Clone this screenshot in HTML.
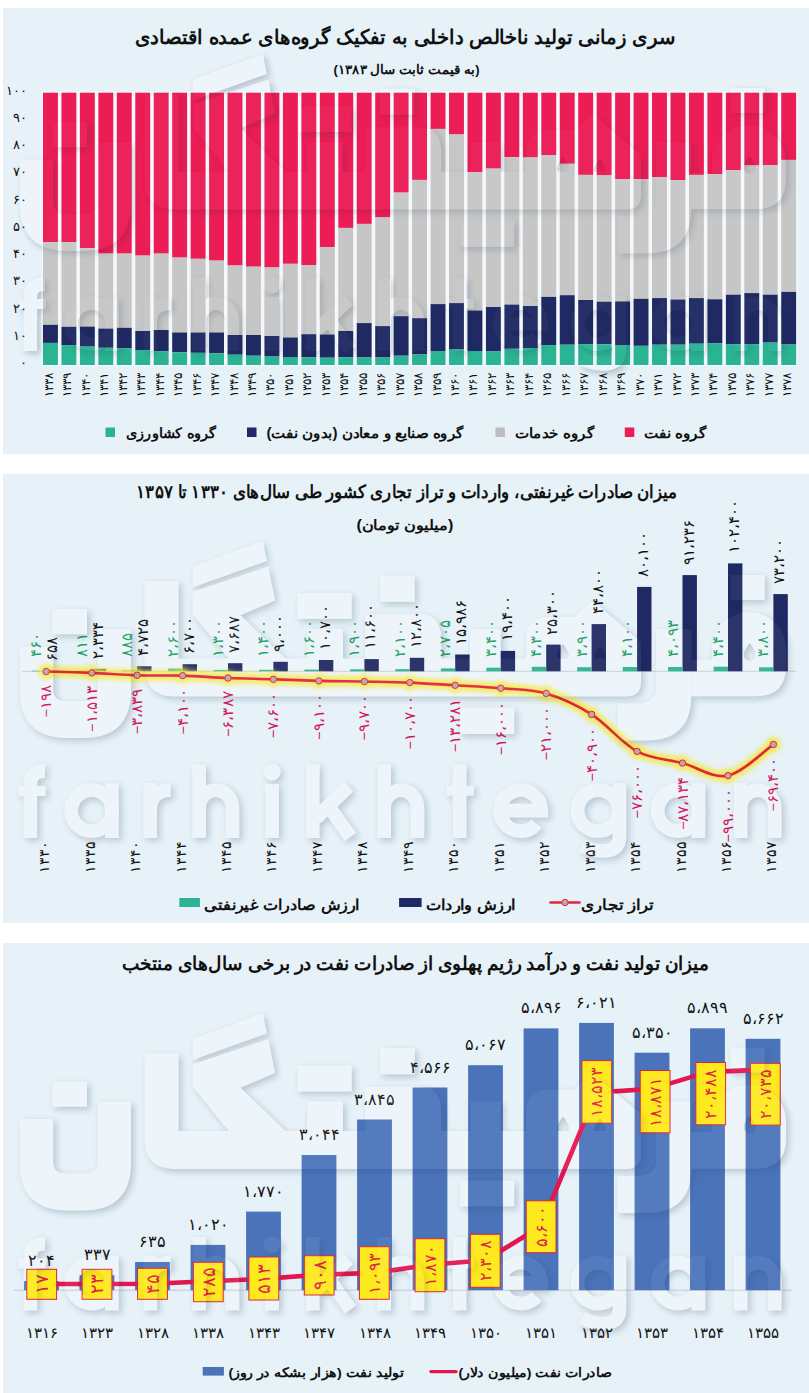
<!DOCTYPE html>
<html lang="fa"><head><meta charset="utf-8"><title>chart</title>
<style>
html,body{margin:0;padding:0;background:#fff;}
body{width:809px;height:1393px;overflow:hidden;font-family:"Liberation Sans",sans-serif;}
svg{display:block;}
text{font-family:"Liberation Sans",sans-serif;}
.t{font-weight:bold;fill:#111;}
.num{direction:ltr;unicode-bidi:bidi-override;}
</style></head><body>
<svg width="809" height="1393" viewBox="0 0 809 1393">
<defs>
<filter id="glow" x="-5%" y="-20%" width="110%" height="140%"><feGaussianBlur stdDeviation="2.8"/></filter>
<filter id="wsh" x="-3%" y="-6%" width="106%" height="114%"><feDropShadow dx="2.5" dy="2.5" stdDeviation="3.5" flood-color="#4b6a88" flood-opacity="0.4"/></filter>
<filter id="wso" x="-3%" y="-6%" width="106%" height="114%"><feGaussianBlur in="SourceAlpha" stdDeviation="3"/><feOffset dx="2.5" dy="2.5" result="b"/><feFlood flood-color="#1c2c40" flood-opacity="1"/><feComposite in2="b" operator="in"/><feComposite in2="SourceAlpha" operator="out"/></filter>
<g id="wm">
<path d="M19.8,646.5 H53.2 V689 Q53.2,701 65.2,701 H85.7 Q97.7,701 97.7,689 V629.2 H131 V690 Q131,738 83,738 H67.8 Q19.8,738 19.8,690 Z"/>
<rect x="52.4" y="609" width="34.6" height="25.2"/>
<path d="M144.6,581 H178.5 V658.5 H641 V682 Q641,696.5 626,696.5 H175 Q144.6,696.5 144.6,666 Z"/>
<polygon points="192.7,566.6 262.7,541.1 266.9,560.9 192.7,587.4"/>
<polygon points="192.7,591.8 268.4,566.6 275,600.5 240.5,615.3 286,659 229,659 192.7,614"/>
<rect x="307.2" y="629" width="35.8" height="31"/>
<rect x="297.3" y="593" width="54.4" height="26"/>
<path d="M365,614.2 H420 Q441.4,614.2 441.4,640 V660 H365 Z"/>
<rect x="380" y="575.8" width="34.7" height="26"/>
<rect x="470.3" y="629" width="30.4" height="31"/>
<rect x="459.9" y="708" width="54.4" height="26"/>
<path fill-rule="evenodd" d="M526,662 V640 Q526,617 550,617 H574 L592.8,600.8 L641,642 V662 Z M563,644 q6,7 6,12 a6,6 0 1 1 -12,0 q0,-5 6,-12 z M600,646 q6,7 6,12 a6,6 0 1 1 -12,0 q0,-5 6,-12 z"/>
<path d="M656.3,629 H691.2 V696 Q691.2,740.5 646,740.5 H617.5 V703.4 H638 Q656.3,703.4 656.3,686 Z"/>
<path fill-rule="evenodd" d="M691.2,659.7 H712 V649 A37,37 0 0 1 786,649 V666 Q786,696.2 756,696.2 H691.2 Z M749.7,643 q6,7 6,12 a6,6 0 1 1 -12,0 q0,-5 6,-12 z"/>
<rect x="730.7" y="575" width="34" height="25"/>
<g fill="none" stroke="#fff" stroke-width="13.6">
<path d="M30.3,838 V784 Q30.3,771.3 45,771.3"/><path d="M18.5,791 H45.7" stroke-width="10"/>
<circle cx="91.7" cy="810.65" r="20.5"/><path d="M111.9,783.3 V838"/>
<path d="M150.2,838 V783.3 M150.2,809 Q151,790.5 170.6,790.1"/>
<path id="wmh" d="M199.2,764.5 V838 M199.2,808 A16.65,17.8 0 0 1 232.5,808 V838"/>
<path d="M272.1,784 V838"/><circle cx="272.1" cy="772" r="8.6" fill="#fff" stroke="none"/>
<path d="M312.8,764.5 V838 M316,818 L348.5,786.5 M328.5,806 L350.5,837" />
<use href="#wmh" x="185"/>
<path d="M459.6,764.5 V838"/><path d="M446.6,790.7 H473.8" stroke-width="10"/>
<path d="M500.4,810.65 H541.3 A20.5,20.5 0 1 0 536.5,823.8"/>
<circle cx="598.1" cy="810.65" r="20.5"/><path d="M619.4,783.3 V837 Q619.4,851 603,851 Q591,851 582,845.5"/>
<circle cx="678.2" cy="810.65" r="20.5"/><path d="M698.4,783.3 V838"/>
<path d="M740.7,783.3 V838 M740.7,808 A17.05,17.8 0 0 1 774.8,808 V838"/>
</g>
</g>
</defs>

<rect x="3" y="8" width="806" height="446" fill="#e6f1f8"/>
<rect x="3" y="474" width="806" height="449" fill="#e6f1f8"/>
<rect x="3" y="943" width="806" height="450" fill="#e6f1f8"/>
<clipPath id="cp0"><rect x="3" y="8" width="806" height="446"/></clipPath>
<g clip-path="url(#cp0)"><use href="#wm" y="-487" fill="#fff" opacity="0.34" filter="url(#wsh)"/></g>
<clipPath id="cp1"><rect x="3" y="474" width="806" height="449"/></clipPath>
<g clip-path="url(#cp1)"><use href="#wm" y="0" fill="#fff" opacity="0.34" filter="url(#wsh)"/></g>
<clipPath id="cp2"><rect x="3" y="943" width="806" height="450"/></clipPath>
<g clip-path="url(#cp2)"><use href="#wm" y="472.5" fill="#fff" opacity="0.34" filter="url(#wsh)"/></g>
<rect x="41.4" y="91.4" width="756.2" height="275" fill="#f3f8fc"/>
<g id="chart1">
<rect x="43.00" y="92.7" width="14.9" height="149.3" fill="#ec1c54"/><rect x="43.00" y="242.0" width="14.9" height="82.8" fill="#c6c6c6"/><rect x="43.00" y="324.8" width="14.9" height="18.1" fill="#1f2963"/><rect x="43.00" y="342.9" width="14.9" height="22.1" fill="#2ab395"/>
<rect x="61.46" y="92.7" width="14.9" height="149.3" fill="#ec1c54"/><rect x="61.46" y="242.0" width="14.9" height="84.8" fill="#c6c6c6"/><rect x="61.46" y="326.8" width="14.9" height="18.3" fill="#1f2963"/><rect x="61.46" y="345.1" width="14.9" height="19.9" fill="#2ab395"/>
<rect x="79.91" y="92.7" width="14.9" height="155.5" fill="#ec1c54"/><rect x="79.91" y="248.2" width="14.9" height="78.4" fill="#c6c6c6"/><rect x="79.91" y="326.6" width="14.9" height="20.0" fill="#1f2963"/><rect x="79.91" y="346.6" width="14.9" height="18.4" fill="#2ab395"/>
<rect x="98.37" y="92.7" width="14.9" height="160.9" fill="#ec1c54"/><rect x="98.37" y="253.6" width="14.9" height="75.0" fill="#c6c6c6"/><rect x="98.37" y="328.6" width="14.9" height="19.2" fill="#1f2963"/><rect x="98.37" y="347.8" width="14.9" height="17.2" fill="#2ab395"/>
<rect x="116.82" y="92.7" width="14.9" height="160.9" fill="#ec1c54"/><rect x="116.82" y="253.6" width="14.9" height="74.2" fill="#c6c6c6"/><rect x="116.82" y="327.8" width="14.9" height="20.5" fill="#1f2963"/><rect x="116.82" y="348.3" width="14.9" height="16.7" fill="#2ab395"/>
<rect x="135.28" y="92.7" width="14.9" height="162.9" fill="#ec1c54"/><rect x="135.28" y="255.6" width="14.9" height="75.4" fill="#c6c6c6"/><rect x="135.28" y="331.0" width="14.9" height="19.0" fill="#1f2963"/><rect x="135.28" y="350.0" width="14.9" height="15.0" fill="#2ab395"/>
<rect x="153.74" y="92.7" width="14.9" height="160.9" fill="#ec1c54"/><rect x="153.74" y="253.6" width="14.9" height="76.4" fill="#c6c6c6"/><rect x="153.74" y="330.0" width="14.9" height="21.3" fill="#1f2963"/><rect x="153.74" y="351.3" width="14.9" height="13.7" fill="#2ab395"/>
<rect x="172.19" y="92.7" width="14.9" height="164.9" fill="#ec1c54"/><rect x="172.19" y="257.6" width="14.9" height="74.9" fill="#c6c6c6"/><rect x="172.19" y="332.5" width="14.9" height="19.8" fill="#1f2963"/><rect x="172.19" y="352.3" width="14.9" height="12.7" fill="#2ab395"/>
<rect x="190.65" y="92.7" width="14.9" height="166.1" fill="#ec1c54"/><rect x="190.65" y="258.8" width="14.9" height="73.7" fill="#c6c6c6"/><rect x="190.65" y="332.5" width="14.9" height="20.3" fill="#1f2963"/><rect x="190.65" y="352.8" width="14.9" height="12.2" fill="#2ab395"/>
<rect x="209.10" y="92.7" width="14.9" height="167.9" fill="#ec1c54"/><rect x="209.10" y="260.6" width="14.9" height="71.9" fill="#c6c6c6"/><rect x="209.10" y="332.5" width="14.9" height="20.8" fill="#1f2963"/><rect x="209.10" y="353.3" width="14.9" height="11.7" fill="#2ab395"/>
<rect x="227.56" y="92.7" width="14.9" height="172.8" fill="#ec1c54"/><rect x="227.56" y="265.5" width="14.9" height="69.5" fill="#c6c6c6"/><rect x="227.56" y="335.0" width="14.9" height="19.7" fill="#1f2963"/><rect x="227.56" y="354.7" width="14.9" height="10.3" fill="#2ab395"/>
<rect x="246.02" y="92.7" width="14.9" height="174.0" fill="#ec1c54"/><rect x="246.02" y="266.7" width="14.9" height="68.3" fill="#c6c6c6"/><rect x="246.02" y="335.0" width="14.9" height="20.7" fill="#1f2963"/><rect x="246.02" y="355.7" width="14.9" height="9.3" fill="#2ab395"/>
<rect x="264.47" y="92.7" width="14.9" height="174.8" fill="#ec1c54"/><rect x="264.47" y="267.5" width="14.9" height="68.5" fill="#c6c6c6"/><rect x="264.47" y="336.0" width="14.9" height="20.5" fill="#1f2963"/><rect x="264.47" y="356.5" width="14.9" height="8.5" fill="#2ab395"/>
<rect x="282.93" y="92.7" width="14.9" height="171.1" fill="#ec1c54"/><rect x="282.93" y="263.8" width="14.9" height="73.7" fill="#c6c6c6"/><rect x="282.93" y="337.5" width="14.9" height="19.5" fill="#1f2963"/><rect x="282.93" y="357.0" width="14.9" height="8.0" fill="#2ab395"/>
<rect x="301.38" y="92.7" width="14.9" height="172.3" fill="#ec1c54"/><rect x="301.38" y="265.0" width="14.9" height="69.2" fill="#c6c6c6"/><rect x="301.38" y="334.2" width="14.9" height="23.0" fill="#1f2963"/><rect x="301.38" y="357.2" width="14.9" height="7.8" fill="#2ab395"/>
<rect x="319.84" y="92.7" width="14.9" height="154.3" fill="#ec1c54"/><rect x="319.84" y="247.0" width="14.9" height="87.5" fill="#c6c6c6"/><rect x="319.84" y="334.5" width="14.9" height="23.2" fill="#1f2963"/><rect x="319.84" y="357.7" width="14.9" height="7.3" fill="#2ab395"/>
<rect x="338.30" y="92.7" width="14.9" height="135.2" fill="#ec1c54"/><rect x="338.30" y="227.9" width="14.9" height="103.1" fill="#c6c6c6"/><rect x="338.30" y="331.0" width="14.9" height="26.2" fill="#1f2963"/><rect x="338.30" y="357.2" width="14.9" height="7.8" fill="#2ab395"/>
<rect x="356.75" y="92.7" width="14.9" height="131.2" fill="#ec1c54"/><rect x="356.75" y="223.9" width="14.9" height="99.2" fill="#c6c6c6"/><rect x="356.75" y="323.1" width="14.9" height="34.4" fill="#1f2963"/><rect x="356.75" y="357.5" width="14.9" height="7.5" fill="#2ab395"/>
<rect x="375.21" y="92.7" width="14.9" height="124.7" fill="#ec1c54"/><rect x="375.21" y="217.4" width="14.9" height="108.7" fill="#c6c6c6"/><rect x="375.21" y="326.1" width="14.9" height="31.4" fill="#1f2963"/><rect x="375.21" y="357.5" width="14.9" height="7.5" fill="#2ab395"/>
<rect x="393.66" y="92.7" width="14.9" height="99.9" fill="#ec1c54"/><rect x="393.66" y="192.6" width="14.9" height="123.6" fill="#c6c6c6"/><rect x="393.66" y="316.2" width="14.9" height="39.5" fill="#1f2963"/><rect x="393.66" y="355.7" width="14.9" height="9.3" fill="#2ab395"/>
<rect x="412.12" y="92.7" width="14.9" height="87.2" fill="#ec1c54"/><rect x="412.12" y="179.9" width="14.9" height="138.3" fill="#c6c6c6"/><rect x="412.12" y="318.2" width="14.9" height="36.2" fill="#1f2963"/><rect x="412.12" y="354.4" width="14.9" height="10.6" fill="#2ab395"/>
<rect x="430.58" y="92.7" width="14.9" height="36.2" fill="#ec1c54"/><rect x="430.58" y="128.9" width="14.9" height="175.2" fill="#c6c6c6"/><rect x="430.58" y="304.1" width="14.9" height="46.9" fill="#1f2963"/><rect x="430.58" y="351.0" width="14.9" height="14.0" fill="#2ab395"/>
<rect x="449.03" y="92.7" width="14.9" height="41.8" fill="#ec1c54"/><rect x="449.03" y="134.5" width="14.9" height="168.6" fill="#c6c6c6"/><rect x="449.03" y="303.1" width="14.9" height="46.5" fill="#1f2963"/><rect x="449.03" y="349.6" width="14.9" height="15.4" fill="#2ab395"/>
<rect x="467.49" y="92.7" width="14.9" height="79.6" fill="#ec1c54"/><rect x="467.49" y="172.3" width="14.9" height="138.2" fill="#c6c6c6"/><rect x="467.49" y="310.5" width="14.9" height="40.5" fill="#1f2963"/><rect x="467.49" y="351.0" width="14.9" height="14.0" fill="#2ab395"/>
<rect x="485.94" y="92.7" width="14.9" height="75.9" fill="#ec1c54"/><rect x="485.94" y="168.6" width="14.9" height="138.4" fill="#c6c6c6"/><rect x="485.94" y="307.0" width="14.9" height="44.5" fill="#1f2963"/><rect x="485.94" y="351.5" width="14.9" height="13.5" fill="#2ab395"/>
<rect x="504.40" y="92.7" width="14.9" height="64.5" fill="#ec1c54"/><rect x="504.40" y="157.2" width="14.9" height="147.4" fill="#c6c6c6"/><rect x="504.40" y="304.6" width="14.9" height="44.2" fill="#1f2963"/><rect x="504.40" y="348.8" width="14.9" height="16.2" fill="#2ab395"/>
<rect x="522.86" y="92.7" width="14.9" height="64.8" fill="#ec1c54"/><rect x="522.86" y="157.5" width="14.9" height="148.5" fill="#c6c6c6"/><rect x="522.86" y="306.0" width="14.9" height="42.0" fill="#1f2963"/><rect x="522.86" y="348.0" width="14.9" height="17.0" fill="#2ab395"/>
<rect x="541.31" y="92.7" width="14.9" height="62.3" fill="#ec1c54"/><rect x="541.31" y="155.0" width="14.9" height="141.9" fill="#c6c6c6"/><rect x="541.31" y="296.9" width="14.9" height="48.2" fill="#1f2963"/><rect x="541.31" y="345.1" width="14.9" height="19.9" fill="#2ab395"/>
<rect x="559.77" y="92.7" width="14.9" height="71.1" fill="#ec1c54"/><rect x="559.77" y="163.8" width="14.9" height="131.4" fill="#c6c6c6"/><rect x="559.77" y="295.2" width="14.9" height="49.5" fill="#1f2963"/><rect x="559.77" y="344.7" width="14.9" height="20.3" fill="#2ab395"/>
<rect x="578.22" y="92.7" width="14.9" height="82.2" fill="#ec1c54"/><rect x="578.22" y="174.9" width="14.9" height="125.1" fill="#c6c6c6"/><rect x="578.22" y="300.0" width="14.9" height="44.1" fill="#1f2963"/><rect x="578.22" y="344.1" width="14.9" height="20.9" fill="#2ab395"/>
<rect x="596.68" y="92.7" width="14.9" height="82.7" fill="#ec1c54"/><rect x="596.68" y="175.4" width="14.9" height="126.3" fill="#c6c6c6"/><rect x="596.68" y="301.7" width="14.9" height="42.6" fill="#1f2963"/><rect x="596.68" y="344.3" width="14.9" height="20.7" fill="#2ab395"/>
<rect x="615.14" y="92.7" width="14.9" height="86.3" fill="#ec1c54"/><rect x="615.14" y="179.0" width="14.9" height="122.4" fill="#c6c6c6"/><rect x="615.14" y="301.4" width="14.9" height="43.6" fill="#1f2963"/><rect x="615.14" y="345.0" width="14.9" height="20.0" fill="#2ab395"/>
<rect x="633.59" y="92.7" width="14.9" height="86.3" fill="#ec1c54"/><rect x="633.59" y="179.0" width="14.9" height="119.8" fill="#c6c6c6"/><rect x="633.59" y="298.8" width="14.9" height="47.0" fill="#1f2963"/><rect x="633.59" y="345.8" width="14.9" height="19.2" fill="#2ab395"/>
<rect x="652.05" y="92.7" width="14.9" height="84.6" fill="#ec1c54"/><rect x="652.05" y="177.3" width="14.9" height="120.8" fill="#c6c6c6"/><rect x="652.05" y="298.1" width="14.9" height="46.6" fill="#1f2963"/><rect x="652.05" y="344.7" width="14.9" height="20.3" fill="#2ab395"/>
<rect x="670.50" y="92.7" width="14.9" height="87.4" fill="#ec1c54"/><rect x="670.50" y="180.1" width="14.9" height="119.4" fill="#c6c6c6"/><rect x="670.50" y="299.5" width="14.9" height="45.2" fill="#1f2963"/><rect x="670.50" y="344.7" width="14.9" height="20.3" fill="#2ab395"/>
<rect x="688.96" y="92.7" width="14.9" height="82.2" fill="#ec1c54"/><rect x="688.96" y="174.9" width="14.9" height="123.2" fill="#c6c6c6"/><rect x="688.96" y="298.1" width="14.9" height="45.6" fill="#1f2963"/><rect x="688.96" y="343.7" width="14.9" height="21.3" fill="#2ab395"/>
<rect x="707.42" y="92.7" width="14.9" height="81.4" fill="#ec1c54"/><rect x="707.42" y="174.1" width="14.9" height="125.2" fill="#c6c6c6"/><rect x="707.42" y="299.3" width="14.9" height="44.1" fill="#1f2963"/><rect x="707.42" y="343.4" width="14.9" height="21.6" fill="#2ab395"/>
<rect x="725.87" y="92.7" width="14.9" height="77.6" fill="#ec1c54"/><rect x="725.87" y="170.3" width="14.9" height="124.4" fill="#c6c6c6"/><rect x="725.87" y="294.7" width="14.9" height="49.4" fill="#1f2963"/><rect x="725.87" y="344.1" width="14.9" height="20.9" fill="#2ab395"/>
<rect x="744.33" y="92.7" width="14.9" height="72.8" fill="#ec1c54"/><rect x="744.33" y="165.5" width="14.9" height="127.6" fill="#c6c6c6"/><rect x="744.33" y="293.1" width="14.9" height="51.0" fill="#1f2963"/><rect x="744.33" y="344.1" width="14.9" height="20.9" fill="#2ab395"/>
<rect x="762.78" y="92.7" width="14.9" height="72.3" fill="#ec1c54"/><rect x="762.78" y="165.0" width="14.9" height="129.7" fill="#c6c6c6"/><rect x="762.78" y="294.7" width="14.9" height="47.9" fill="#1f2963"/><rect x="762.78" y="342.6" width="14.9" height="22.4" fill="#2ab395"/>
<rect x="781.24" y="92.7" width="14.9" height="67.2" fill="#ec1c54"/><rect x="781.24" y="159.9" width="14.9" height="132.0" fill="#c6c6c6"/><rect x="781.24" y="291.9" width="14.9" height="52.6" fill="#1f2963"/><rect x="781.24" y="344.5" width="14.9" height="20.5" fill="#2ab395"/>
</g>
<g font-size="13" fill="#111" text-anchor="end">
<text class="num" textLength="21.0" lengthAdjust="spacingAndGlyphs" x="26.5" y="94.5">۱۰۰</text>
<text class="num" textLength="14.0" lengthAdjust="spacingAndGlyphs" x="26.5" y="121.8">۹۰</text>
<text class="num" textLength="14.0" lengthAdjust="spacingAndGlyphs" x="26.5" y="149.0">۸۰</text>
<text class="num" textLength="14.0" lengthAdjust="spacingAndGlyphs" x="26.5" y="176.3">۷۰</text>
<text class="num" textLength="14.0" lengthAdjust="spacingAndGlyphs" x="26.5" y="203.6">۶۰</text>
<text class="num" textLength="14.0" lengthAdjust="spacingAndGlyphs" x="26.5" y="230.8">۵۰</text>
<text class="num" textLength="14.0" lengthAdjust="spacingAndGlyphs" x="26.5" y="258.1">۴۰</text>
<text class="num" textLength="14.0" lengthAdjust="spacingAndGlyphs" x="26.5" y="285.4">۳۰</text>
<text class="num" textLength="14.0" lengthAdjust="spacingAndGlyphs" x="26.5" y="312.7">۲۰</text>
<text class="num" textLength="14.0" lengthAdjust="spacingAndGlyphs" x="26.5" y="339.9">۱۰</text>
<text class="num" textLength="7.0" lengthAdjust="spacingAndGlyphs" x="26.5" y="367.2">۰</text>
</g>
<g font-size="11.5" fill="#111" text-anchor="end">
<text class="num" textLength="24.0" lengthAdjust="spacingAndGlyphs" transform="translate(53.0,373) rotate(-90)">۱۳۳۸</text>
<text class="num" textLength="24.0" lengthAdjust="spacingAndGlyphs" transform="translate(71.4,373) rotate(-90)">۱۳۳۹</text>
<text class="num" textLength="24.0" lengthAdjust="spacingAndGlyphs" transform="translate(89.9,373) rotate(-90)">۱۳۴۰</text>
<text class="num" textLength="24.0" lengthAdjust="spacingAndGlyphs" transform="translate(108.3,373) rotate(-90)">۱۳۴۱</text>
<text class="num" textLength="24.0" lengthAdjust="spacingAndGlyphs" transform="translate(126.8,373) rotate(-90)">۱۳۴۲</text>
<text class="num" textLength="24.0" lengthAdjust="spacingAndGlyphs" transform="translate(145.2,373) rotate(-90)">۱۳۴۳</text>
<text class="num" textLength="24.0" lengthAdjust="spacingAndGlyphs" transform="translate(163.7,373) rotate(-90)">۱۳۴۴</text>
<text class="num" textLength="24.0" lengthAdjust="spacingAndGlyphs" transform="translate(182.1,373) rotate(-90)">۱۳۴۵</text>
<text class="num" textLength="24.0" lengthAdjust="spacingAndGlyphs" transform="translate(200.6,373) rotate(-90)">۱۳۴۶</text>
<text class="num" textLength="24.0" lengthAdjust="spacingAndGlyphs" transform="translate(219.1,373) rotate(-90)">۱۳۴۷</text>
<text class="num" textLength="24.0" lengthAdjust="spacingAndGlyphs" transform="translate(237.5,373) rotate(-90)">۱۳۴۸</text>
<text class="num" textLength="24.0" lengthAdjust="spacingAndGlyphs" transform="translate(256.0,373) rotate(-90)">۱۳۴۹</text>
<text class="num" textLength="24.0" lengthAdjust="spacingAndGlyphs" transform="translate(274.4,373) rotate(-90)">۱۳۵۰</text>
<text class="num" textLength="24.0" lengthAdjust="spacingAndGlyphs" transform="translate(292.9,373) rotate(-90)">۱۳۵۱</text>
<text class="num" textLength="24.0" lengthAdjust="spacingAndGlyphs" transform="translate(311.3,373) rotate(-90)">۱۳۵۲</text>
<text class="num" textLength="24.0" lengthAdjust="spacingAndGlyphs" transform="translate(329.8,373) rotate(-90)">۱۳۵۳</text>
<text class="num" textLength="24.0" lengthAdjust="spacingAndGlyphs" transform="translate(348.2,373) rotate(-90)">۱۳۵۴</text>
<text class="num" textLength="24.0" lengthAdjust="spacingAndGlyphs" transform="translate(366.7,373) rotate(-90)">۱۳۵۵</text>
<text class="num" textLength="24.0" lengthAdjust="spacingAndGlyphs" transform="translate(385.2,373) rotate(-90)">۱۳۵۶</text>
<text class="num" textLength="24.0" lengthAdjust="spacingAndGlyphs" transform="translate(403.6,373) rotate(-90)">۱۳۵۷</text>
<text class="num" textLength="24.0" lengthAdjust="spacingAndGlyphs" transform="translate(422.1,373) rotate(-90)">۱۳۵۸</text>
<text class="num" textLength="24.0" lengthAdjust="spacingAndGlyphs" transform="translate(440.5,373) rotate(-90)">۱۳۵۹</text>
<text class="num" textLength="24.0" lengthAdjust="spacingAndGlyphs" transform="translate(459.0,373) rotate(-90)">۱۳۶۰</text>
<text class="num" textLength="24.0" lengthAdjust="spacingAndGlyphs" transform="translate(477.4,373) rotate(-90)">۱۳۶۱</text>
<text class="num" textLength="24.0" lengthAdjust="spacingAndGlyphs" transform="translate(495.9,373) rotate(-90)">۱۳۶۲</text>
<text class="num" textLength="24.0" lengthAdjust="spacingAndGlyphs" transform="translate(514.3,373) rotate(-90)">۱۳۶۳</text>
<text class="num" textLength="24.0" lengthAdjust="spacingAndGlyphs" transform="translate(532.8,373) rotate(-90)">۱۳۶۴</text>
<text class="num" textLength="24.0" lengthAdjust="spacingAndGlyphs" transform="translate(551.3,373) rotate(-90)">۱۳۶۵</text>
<text class="num" textLength="24.0" lengthAdjust="spacingAndGlyphs" transform="translate(569.7,373) rotate(-90)">۱۳۶۶</text>
<text class="num" textLength="24.0" lengthAdjust="spacingAndGlyphs" transform="translate(588.2,373) rotate(-90)">۱۳۶۷</text>
<text class="num" textLength="24.0" lengthAdjust="spacingAndGlyphs" transform="translate(606.6,373) rotate(-90)">۱۳۶۸</text>
<text class="num" textLength="24.0" lengthAdjust="spacingAndGlyphs" transform="translate(625.1,373) rotate(-90)">۱۳۶۹</text>
<text class="num" textLength="24.0" lengthAdjust="spacingAndGlyphs" transform="translate(643.5,373) rotate(-90)">۱۳۷۰</text>
<text class="num" textLength="24.0" lengthAdjust="spacingAndGlyphs" transform="translate(662.0,373) rotate(-90)">۱۳۷۱</text>
<text class="num" textLength="24.0" lengthAdjust="spacingAndGlyphs" transform="translate(680.5,373) rotate(-90)">۱۳۷۲</text>
<text class="num" textLength="24.0" lengthAdjust="spacingAndGlyphs" transform="translate(698.9,373) rotate(-90)">۱۳۷۳</text>
<text class="num" textLength="24.0" lengthAdjust="spacingAndGlyphs" transform="translate(717.4,373) rotate(-90)">۱۳۷۴</text>
<text class="num" textLength="24.0" lengthAdjust="spacingAndGlyphs" transform="translate(735.8,373) rotate(-90)">۱۳۷۵</text>
<text class="num" textLength="24.0" lengthAdjust="spacingAndGlyphs" transform="translate(754.3,373) rotate(-90)">۱۳۷۶</text>
<text class="num" textLength="24.0" lengthAdjust="spacingAndGlyphs" transform="translate(772.7,373) rotate(-90)">۱۳۷۷</text>
<text class="num" textLength="24.0" lengthAdjust="spacingAndGlyphs" transform="translate(791.2,373) rotate(-90)">۱۳۷۸</text>
</g>
<text class="t" x="405" y="44" font-size="19.5" text-anchor="middle" direction="rtl" textLength="541" lengthAdjust="spacingAndGlyphs">سری زمانی تولید ناخالص داخلی به تفکیک گروه‌های عمده اقتصادی</text>
<text class="t" x="406.5" y="74" font-size="12.5" text-anchor="middle" direction="rtl" textLength="146" lengthAdjust="spacingAndGlyphs">(به قیمت ثابت سال ۱۳۸۳)</text>
<rect x="105.5" y="427.5" width="9.5" height="9.5" fill="#2ab395"/>
<text class="t" x="171.2" y="438.3" font-size="14" text-anchor="middle" direction="rtl" textLength="90.8" lengthAdjust="spacingAndGlyphs">گروه کشاورزی</text>
<rect x="247" y="427.5" width="9.5" height="9.5" fill="#1f2963"/>
<text class="t" x="365.2" y="438.3" font-size="14" text-anchor="middle" direction="rtl" textLength="197.6" lengthAdjust="spacingAndGlyphs">گروه صنایع و معادن (بدون نفت)</text>
<rect x="495.4" y="427.5" width="9.5" height="9.5" fill="#bdbdbd"/>
<text class="t" x="554.5" y="438.3" font-size="14" text-anchor="middle" direction="rtl" textLength="79.5" lengthAdjust="spacingAndGlyphs">گروه خدمات</text>
<rect x="624.8" y="427.5" width="9.5" height="9.5" fill="#ec1c54"/>
<text class="t" x="675.4" y="438.3" font-size="14" text-anchor="middle" direction="rtl" textLength="62.7" lengthAdjust="spacingAndGlyphs">گروه نفت</text>
<g id="chart2">
<line x1="22" y1="671.3" x2="796" y2="671.3" stroke="#c9cdd3" stroke-width="1"/>
<rect x="46.2" y="670.6" width="14.4" height="0.7" fill="#1f2963"/>
<rect x="31.8" y="670.7" width="14.4" height="0.6" fill="#2ab395"/>
<rect x="91.7" y="668.8" width="14.4" height="2.5" fill="#1f2963"/>
<rect x="77.2" y="670.4" width="14.4" height="0.9" fill="#2ab395"/>
<rect x="137.1" y="666.3" width="14.4" height="5.0" fill="#1f2963"/>
<rect x="122.7" y="670.4" width="14.4" height="0.9" fill="#2ab395"/>
<rect x="182.6" y="664.2" width="14.4" height="7.1" fill="#1f2963"/>
<rect x="168.2" y="668.6" width="14.4" height="2.7" fill="#2ab395"/>
<rect x="228.0" y="663.2" width="14.4" height="8.1" fill="#1f2963"/>
<rect x="213.6" y="669.9" width="14.4" height="1.4" fill="#2ab395"/>
<rect x="273.4" y="661.8" width="14.4" height="9.5" fill="#1f2963"/>
<rect x="259.1" y="669.8" width="14.4" height="1.5" fill="#2ab395"/>
<rect x="318.9" y="660.0" width="14.4" height="11.3" fill="#1f2963"/>
<rect x="304.5" y="669.6" width="14.4" height="1.7" fill="#2ab395"/>
<rect x="364.4" y="659.1" width="14.4" height="12.2" fill="#1f2963"/>
<rect x="350.0" y="669.3" width="14.4" height="2.0" fill="#2ab395"/>
<rect x="409.8" y="657.8" width="14.4" height="13.5" fill="#1f2963"/>
<rect x="395.4" y="669.1" width="14.4" height="2.2" fill="#2ab395"/>
<rect x="455.2" y="654.5" width="14.4" height="16.8" fill="#1f2963"/>
<rect x="440.9" y="668.4" width="14.4" height="2.9" fill="#2ab395"/>
<rect x="500.7" y="650.9" width="14.4" height="20.4" fill="#1f2963"/>
<rect x="486.3" y="667.7" width="14.4" height="3.6" fill="#2ab395"/>
<rect x="546.2" y="644.6" width="14.4" height="26.7" fill="#1f2963"/>
<rect x="531.8" y="666.8" width="14.4" height="4.5" fill="#2ab395"/>
<rect x="591.6" y="624.1" width="14.4" height="47.2" fill="#1f2963"/>
<rect x="577.2" y="667.2" width="14.4" height="4.1" fill="#2ab395"/>
<rect x="637.1" y="586.9" width="14.4" height="84.4" fill="#1f2963"/>
<rect x="622.7" y="667.0" width="14.4" height="4.3" fill="#2ab395"/>
<rect x="682.5" y="575.1" width="14.4" height="96.2" fill="#1f2963"/>
<rect x="668.1" y="667.0" width="14.4" height="4.3" fill="#2ab395"/>
<rect x="728.0" y="563.4" width="14.4" height="107.9" fill="#1f2963"/>
<rect x="713.6" y="666.7" width="14.4" height="4.6" fill="#2ab395"/>
<rect x="773.4" y="594.1" width="14.4" height="77.2" fill="#1f2963"/>
<rect x="759.0" y="667.3" width="14.4" height="4.0" fill="#2ab395"/>
<g filter="url(#glow)" opacity="0.88"><path d="M46.2,671.5 C53.8,671.7 76.5,672.3 91.7,672.9 C106.8,673.5 122.0,674.9 137.1,675.3 C152.3,675.8 167.4,675.2 182.6,675.6 C197.7,676.1 212.8,677.4 228.0,678.0 C243.2,678.6 258.3,678.8 273.4,679.3 C288.6,679.8 303.8,680.5 318.9,680.9 C334.1,681.3 349.2,681.2 364.4,681.5 C379.5,681.8 394.7,681.9 409.8,682.6 C424.9,683.2 440.1,684.4 455.2,685.3 C470.4,686.2 485.5,686.8 500.7,688.2 C515.9,689.5 531.0,689.1 546.2,693.4 C561.3,697.8 576.5,704.7 591.6,714.4 C606.8,724.1 621.9,743.3 637.1,751.4 C652.2,759.5 667.4,759.1 682.5,763.1 C697.7,767.2 712.8,778.8 728.0,775.6 C743.1,772.5 765.8,749.6 773.4,744.4" fill="none" stroke="#f6e83e" stroke-width="10" stroke-linecap="round" stroke-linejoin="round"/><circle cx="46.2" cy="671.5" r="7.5" fill="#f6e83e"/><circle cx="91.7" cy="672.9" r="7.5" fill="#f6e83e"/><circle cx="137.1" cy="675.3" r="7.5" fill="#f6e83e"/><circle cx="182.6" cy="675.6" r="7.5" fill="#f6e83e"/><circle cx="228.0" cy="678.0" r="7.5" fill="#f6e83e"/><circle cx="273.4" cy="679.3" r="7.5" fill="#f6e83e"/><circle cx="318.9" cy="680.9" r="7.5" fill="#f6e83e"/><circle cx="364.4" cy="681.5" r="7.5" fill="#f6e83e"/><circle cx="409.8" cy="682.6" r="7.5" fill="#f6e83e"/><circle cx="455.2" cy="685.3" r="7.5" fill="#f6e83e"/><circle cx="500.7" cy="688.2" r="7.5" fill="#f6e83e"/><circle cx="546.2" cy="693.4" r="7.5" fill="#f6e83e"/><circle cx="591.6" cy="714.4" r="7.5" fill="#f6e83e"/><circle cx="637.1" cy="751.4" r="7.5" fill="#f6e83e"/><circle cx="682.5" cy="763.1" r="7.5" fill="#f6e83e"/><circle cx="728.0" cy="775.6" r="7.5" fill="#f6e83e"/><circle cx="773.4" cy="744.4" r="7.5" fill="#f6e83e"/></g>
<path d="M46.2,671.5 C53.8,671.7 76.5,672.3 91.7,672.9 C106.8,673.5 122.0,674.9 137.1,675.3 C152.3,675.8 167.4,675.2 182.6,675.6 C197.7,676.1 212.8,677.4 228.0,678.0 C243.2,678.6 258.3,678.8 273.4,679.3 C288.6,679.8 303.8,680.5 318.9,680.9 C334.1,681.3 349.2,681.2 364.4,681.5 C379.5,681.8 394.7,681.9 409.8,682.6 C424.9,683.2 440.1,684.4 455.2,685.3 C470.4,686.2 485.5,686.8 500.7,688.2 C515.9,689.5 531.0,689.1 546.2,693.4 C561.3,697.8 576.5,704.7 591.6,714.4 C606.8,724.1 621.9,743.3 637.1,751.4 C652.2,759.5 667.4,759.1 682.5,763.1 C697.7,767.2 712.8,778.8 728.0,775.6 C743.1,772.5 765.8,749.6 773.4,744.4" fill="none" stroke="#e3243f" stroke-width="2.6" stroke-linecap="round" stroke-linejoin="round"/>
<circle cx="46.2" cy="671.5" r="3.2" fill="#b9a9a6" stroke="#e3243f" stroke-width="1"/>
<circle cx="91.7" cy="672.9" r="3.2" fill="#b9a9a6" stroke="#e3243f" stroke-width="1"/>
<circle cx="137.1" cy="675.3" r="3.2" fill="#b9a9a6" stroke="#e3243f" stroke-width="1"/>
<circle cx="182.6" cy="675.6" r="3.2" fill="#b9a9a6" stroke="#e3243f" stroke-width="1"/>
<circle cx="228.0" cy="678.0" r="3.2" fill="#b9a9a6" stroke="#e3243f" stroke-width="1"/>
<circle cx="273.4" cy="679.3" r="3.2" fill="#b9a9a6" stroke="#e3243f" stroke-width="1"/>
<circle cx="318.9" cy="680.9" r="3.2" fill="#b9a9a6" stroke="#e3243f" stroke-width="1"/>
<circle cx="364.4" cy="681.5" r="3.2" fill="#b9a9a6" stroke="#e3243f" stroke-width="1"/>
<circle cx="409.8" cy="682.6" r="3.2" fill="#b9a9a6" stroke="#e3243f" stroke-width="1"/>
<circle cx="455.2" cy="685.3" r="3.2" fill="#b9a9a6" stroke="#e3243f" stroke-width="1"/>
<circle cx="500.7" cy="688.2" r="3.2" fill="#b9a9a6" stroke="#e3243f" stroke-width="1"/>
<circle cx="546.2" cy="693.4" r="3.2" fill="#b9a9a6" stroke="#e3243f" stroke-width="1"/>
<circle cx="591.6" cy="714.4" r="3.2" fill="#b9a9a6" stroke="#e3243f" stroke-width="1"/>
<circle cx="637.1" cy="751.4" r="3.2" fill="#b9a9a6" stroke="#e3243f" stroke-width="1"/>
<circle cx="682.5" cy="763.1" r="3.2" fill="#b9a9a6" stroke="#e3243f" stroke-width="1"/>
<circle cx="728.0" cy="775.6" r="3.2" fill="#b9a9a6" stroke="#e3243f" stroke-width="1"/>
<circle cx="773.4" cy="744.4" r="3.2" fill="#b9a9a6" stroke="#e3243f" stroke-width="1"/>
<g font-size="14.5">
<text class="num" textLength="24.0" lengthAdjust="spacingAndGlyphs" fill="#111" transform="translate(57.2,660.6) rotate(-90)">۶۵۸</text>
<text class="num" textLength="24.0" lengthAdjust="spacingAndGlyphs" fill="#18a05e" transform="translate(41.2,656.8) rotate(-90)">۴۶۰</text>
<text class="num" textLength="32.5" lengthAdjust="spacingAndGlyphs" fill="#d4145a" text-anchor="end" transform="translate(51.2,685.0) rotate(-90)">−۱۹۸</text>
<text class="num" textLength="37.0" lengthAdjust="spacingAndGlyphs" fill="#111" transform="translate(102.7,658.8) rotate(-90)">۲،۳۳۴</text>
<text class="num" textLength="24.0" lengthAdjust="spacingAndGlyphs" fill="#18a05e" transform="translate(86.7,656.8) rotate(-90)">۸۱۱</text>
<text class="num" textLength="45.5" lengthAdjust="spacingAndGlyphs" fill="#d4145a" text-anchor="end" transform="translate(96.7,686.4) rotate(-90)">−۱،۵۱۳</text>
<text class="num" textLength="37.0" lengthAdjust="spacingAndGlyphs" fill="#111" transform="translate(148.1,656.3) rotate(-90)">۴،۷۲۵</text>
<text class="num" textLength="24.0" lengthAdjust="spacingAndGlyphs" fill="#18a05e" transform="translate(132.1,656.8) rotate(-90)">۸۸۵</text>
<text class="num" textLength="45.5" lengthAdjust="spacingAndGlyphs" fill="#d4145a" text-anchor="end" transform="translate(142.1,688.8) rotate(-90)">−۳،۸۳۹</text>
<text class="num" textLength="37.0" lengthAdjust="spacingAndGlyphs" fill="#111" transform="translate(193.6,654.2) rotate(-90)">۶،۷۰۰</text>
<text class="num" textLength="37.0" lengthAdjust="spacingAndGlyphs" fill="#18a05e" transform="translate(177.6,656.8) rotate(-90)">۲،۶۰۰</text>
<text class="num" textLength="45.5" lengthAdjust="spacingAndGlyphs" fill="#d4145a" text-anchor="end" transform="translate(187.6,689.1) rotate(-90)">−۴،۱۰۰</text>
<text class="num" textLength="37.0" lengthAdjust="spacingAndGlyphs" fill="#111" transform="translate(239.0,653.2) rotate(-90)">۷،۶۸۷</text>
<text class="num" textLength="37.0" lengthAdjust="spacingAndGlyphs" fill="#18a05e" transform="translate(223.0,656.8) rotate(-90)">۱،۳۰۰</text>
<text class="num" textLength="45.5" lengthAdjust="spacingAndGlyphs" fill="#d4145a" text-anchor="end" transform="translate(233.0,691.5) rotate(-90)">−۶،۳۸۷</text>
<text class="num" textLength="37.0" lengthAdjust="spacingAndGlyphs" fill="#111" transform="translate(284.4,651.8) rotate(-90)">۹،۰۰۰</text>
<text class="num" textLength="37.0" lengthAdjust="spacingAndGlyphs" fill="#18a05e" transform="translate(268.4,656.8) rotate(-90)">۱،۴۰۰</text>
<text class="num" textLength="45.5" lengthAdjust="spacingAndGlyphs" fill="#d4145a" text-anchor="end" transform="translate(278.4,692.8) rotate(-90)">−۷،۶۰۰</text>
<text class="num" textLength="45.0" lengthAdjust="spacingAndGlyphs" fill="#111" transform="translate(329.9,650.0) rotate(-90)">۱۰،۷۰۰</text>
<text class="num" textLength="37.0" lengthAdjust="spacingAndGlyphs" fill="#18a05e" transform="translate(313.9,656.8) rotate(-90)">۱،۶۰۰</text>
<text class="num" textLength="45.5" lengthAdjust="spacingAndGlyphs" fill="#d4145a" text-anchor="end" transform="translate(323.9,694.4) rotate(-90)">−۹،۱۰۰</text>
<text class="num" textLength="45.0" lengthAdjust="spacingAndGlyphs" fill="#111" transform="translate(375.4,649.1) rotate(-90)">۱۱،۶۰۰</text>
<text class="num" textLength="37.0" lengthAdjust="spacingAndGlyphs" fill="#18a05e" transform="translate(359.4,656.8) rotate(-90)">۱،۹۰۰</text>
<text class="num" textLength="45.5" lengthAdjust="spacingAndGlyphs" fill="#d4145a" text-anchor="end" transform="translate(369.4,695.0) rotate(-90)">−۹،۷۰۰</text>
<text class="num" textLength="45.0" lengthAdjust="spacingAndGlyphs" fill="#111" transform="translate(420.8,647.8) rotate(-90)">۱۲،۸۰۰</text>
<text class="num" textLength="37.0" lengthAdjust="spacingAndGlyphs" fill="#18a05e" transform="translate(404.8,656.8) rotate(-90)">۲،۱۰۰</text>
<text class="num" textLength="53.5" lengthAdjust="spacingAndGlyphs" fill="#d4145a" text-anchor="end" transform="translate(414.8,696.1) rotate(-90)">−۱۰،۷۰۰</text>
<text class="num" textLength="45.0" lengthAdjust="spacingAndGlyphs" fill="#111" transform="translate(466.2,644.5) rotate(-90)">۱۵،۹۸۶</text>
<text class="num" textLength="37.0" lengthAdjust="spacingAndGlyphs" fill="#18a05e" transform="translate(450.2,656.8) rotate(-90)">۲،۷۰۵</text>
<text class="num" textLength="53.5" lengthAdjust="spacingAndGlyphs" fill="#d4145a" text-anchor="end" transform="translate(460.2,698.8) rotate(-90)">−۱۳،۲۸۱</text>
<text class="num" textLength="45.0" lengthAdjust="spacingAndGlyphs" fill="#111" transform="translate(511.7,640.9) rotate(-90)">۱۹،۴۰۰</text>
<text class="num" textLength="37.0" lengthAdjust="spacingAndGlyphs" fill="#18a05e" transform="translate(495.7,656.8) rotate(-90)">۳،۴۰۰</text>
<text class="num" textLength="53.5" lengthAdjust="spacingAndGlyphs" fill="#d4145a" text-anchor="end" transform="translate(505.7,701.7) rotate(-90)">−۱۶،۰۰۰</text>
<text class="num" textLength="45.0" lengthAdjust="spacingAndGlyphs" fill="#111" transform="translate(557.2,634.6) rotate(-90)">۲۵،۳۰۰</text>
<text class="num" textLength="37.0" lengthAdjust="spacingAndGlyphs" fill="#18a05e" transform="translate(541.2,656.8) rotate(-90)">۴،۳۰۰</text>
<text class="num" textLength="53.5" lengthAdjust="spacingAndGlyphs" fill="#d4145a" text-anchor="end" transform="translate(551.2,706.9) rotate(-90)">−۲۱،۰۰۰</text>
<text class="num" textLength="45.0" lengthAdjust="spacingAndGlyphs" fill="#111" transform="translate(602.6,614.1) rotate(-90)">۴۴،۸۰۰</text>
<text class="num" textLength="37.0" lengthAdjust="spacingAndGlyphs" fill="#18a05e" transform="translate(586.6,656.8) rotate(-90)">۳،۹۰۰</text>
<text class="num" textLength="53.5" lengthAdjust="spacingAndGlyphs" fill="#d4145a" text-anchor="end" transform="translate(596.6,727.9) rotate(-90)">−۴۰،۹۰۰</text>
<text class="num" textLength="45.0" lengthAdjust="spacingAndGlyphs" fill="#111" transform="translate(648.1,576.9) rotate(-90)">۸۰،۱۰۰</text>
<text class="num" textLength="37.0" lengthAdjust="spacingAndGlyphs" fill="#18a05e" transform="translate(632.1,656.8) rotate(-90)">۴،۱۰۰</text>
<text class="num" textLength="53.5" lengthAdjust="spacingAndGlyphs" fill="#d4145a" text-anchor="end" transform="translate(642.1,764.9) rotate(-90)">−۷۶،۰۰۰</text>
<text class="num" textLength="45.0" lengthAdjust="spacingAndGlyphs" fill="#111" transform="translate(693.5,565.1) rotate(-90)">۹۱،۲۳۶</text>
<text class="num" textLength="37.0" lengthAdjust="spacingAndGlyphs" fill="#18a05e" transform="translate(677.5,656.8) rotate(-90)">۴،۰۹۳</text>
<text class="num" textLength="53.5" lengthAdjust="spacingAndGlyphs" fill="#d4145a" text-anchor="end" transform="translate(687.5,776.6) rotate(-90)">−۸۷،۱۳۴</text>
<text class="num" textLength="53.0" lengthAdjust="spacingAndGlyphs" fill="#111" transform="translate(739.0,553.4) rotate(-90)">۱۰۲،۴۰۰</text>
<text class="num" textLength="37.0" lengthAdjust="spacingAndGlyphs" fill="#18a05e" transform="translate(723.0,656.8) rotate(-90)">۴،۴۰۰</text>
<text class="num" textLength="53.5" lengthAdjust="spacingAndGlyphs" fill="#d4145a" text-anchor="end" transform="translate(733.0,789.1) rotate(-90)">−۹۹،۰۰۰</text>
<text class="num" textLength="45.0" lengthAdjust="spacingAndGlyphs" fill="#111" transform="translate(784.4,584.1) rotate(-90)">۷۳،۲۰۰</text>
<text class="num" textLength="37.0" lengthAdjust="spacingAndGlyphs" fill="#18a05e" transform="translate(768.4,656.8) rotate(-90)">۳،۸۰۰</text>
<text class="num" textLength="53.5" lengthAdjust="spacingAndGlyphs" fill="#d4145a" text-anchor="end" transform="translate(778.4,757.9) rotate(-90)">−۶۹،۴۰۰</text>
</g>
<g font-size="14" fill="#111" text-anchor="end">
<text class="num" textLength="32.0" lengthAdjust="spacingAndGlyphs" transform="translate(49.2,840.5) rotate(-90)">۱۳۳۰</text>
<text class="num" textLength="32.0" lengthAdjust="spacingAndGlyphs" transform="translate(94.7,840.5) rotate(-90)">۱۳۳۵</text>
<text class="num" textLength="32.0" lengthAdjust="spacingAndGlyphs" transform="translate(140.1,840.5) rotate(-90)">۱۳۴۰</text>
<text class="num" textLength="32.0" lengthAdjust="spacingAndGlyphs" transform="translate(185.6,840.5) rotate(-90)">۱۳۴۴</text>
<text class="num" textLength="32.0" lengthAdjust="spacingAndGlyphs" transform="translate(231.0,840.5) rotate(-90)">۱۳۴۵</text>
<text class="num" textLength="32.0" lengthAdjust="spacingAndGlyphs" transform="translate(276.4,840.5) rotate(-90)">۱۳۴۶</text>
<text class="num" textLength="32.0" lengthAdjust="spacingAndGlyphs" transform="translate(321.9,840.5) rotate(-90)">۱۳۴۷</text>
<text class="num" textLength="32.0" lengthAdjust="spacingAndGlyphs" transform="translate(367.4,840.5) rotate(-90)">۱۳۴۸</text>
<text class="num" textLength="32.0" lengthAdjust="spacingAndGlyphs" transform="translate(412.8,840.5) rotate(-90)">۱۳۴۹</text>
<text class="num" textLength="32.0" lengthAdjust="spacingAndGlyphs" transform="translate(458.2,840.5) rotate(-90)">۱۳۵۰</text>
<text class="num" textLength="32.0" lengthAdjust="spacingAndGlyphs" transform="translate(503.7,840.5) rotate(-90)">۱۳۵۱</text>
<text class="num" textLength="32.0" lengthAdjust="spacingAndGlyphs" transform="translate(549.2,840.5) rotate(-90)">۱۳۵۲</text>
<text class="num" textLength="32.0" lengthAdjust="spacingAndGlyphs" transform="translate(594.6,840.5) rotate(-90)">۱۳۵۳</text>
<text class="num" textLength="32.0" lengthAdjust="spacingAndGlyphs" transform="translate(640.1,840.5) rotate(-90)">۱۳۵۴</text>
<text class="num" textLength="32.0" lengthAdjust="spacingAndGlyphs" transform="translate(685.5,840.5) rotate(-90)">۱۳۵۵</text>
<text class="num" textLength="32.0" lengthAdjust="spacingAndGlyphs" transform="translate(731.0,840.5) rotate(-90)">۱۳۵۶</text>
<text class="num" textLength="32.0" lengthAdjust="spacingAndGlyphs" transform="translate(776.4,840.5) rotate(-90)">۱۳۵۷</text>
</g>
</g>
<text class="t" x="406.5" y="497.5" font-size="17.5" text-anchor="middle" direction="rtl" textLength="541" lengthAdjust="spacingAndGlyphs">میزان صادرات غیرنفتی، واردات و تراز تجاری کشور طی سال‌های ۱۳۳۰ تا ۱۳۵۷</text>
<text class="t" x="405" y="530" font-size="14" text-anchor="middle" direction="rtl" textLength="97" lengthAdjust="spacingAndGlyphs">(میلیون تومان)</text>
<g id="chart3">
<line x1="14" y1="1290.2" x2="792" y2="1290.2" stroke="#c3c8cf" stroke-width="1"/>
<rect x="24.1" y="1281.1" width="34.8" height="9.1" fill="#4a73ba"/>
<rect x="79.6" y="1275.2" width="34.8" height="15.0" fill="#4a73ba"/>
<rect x="135.1" y="1262.0" width="34.8" height="28.2" fill="#4a73ba"/>
<rect x="190.6" y="1244.9" width="34.8" height="45.3" fill="#4a73ba"/>
<rect x="246.1" y="1211.6" width="34.8" height="78.6" fill="#4a73ba"/>
<rect x="301.6" y="1155.0" width="34.8" height="135.2" fill="#4a73ba"/>
<rect x="357.1" y="1119.5" width="34.8" height="170.7" fill="#4a73ba"/>
<rect x="412.6" y="1087.5" width="34.8" height="202.7" fill="#4a73ba"/>
<rect x="468.1" y="1065.2" width="34.8" height="225.0" fill="#4a73ba"/>
<rect x="523.6" y="1028.4" width="34.8" height="261.8" fill="#4a73ba"/>
<rect x="579.1" y="1022.9" width="34.8" height="267.3" fill="#4a73ba"/>
<rect x="634.6" y="1052.7" width="34.8" height="237.5" fill="#4a73ba"/>
<rect x="690.1" y="1028.3" width="34.8" height="261.9" fill="#4a73ba"/>
<rect x="745.6" y="1038.8" width="34.8" height="251.4" fill="#4a73ba"/>
<polyline fill="none" stroke="#e3164f" stroke-width="4.6" stroke-linejoin="round" stroke-linecap="round" points="41.5,1284.0 97.0,1284.0 152.5,1283.7 208.0,1281.3 263.5,1278.9 319.0,1274.8 374.5,1272.9 430.0,1264.8 485.5,1260.3 541.0,1226.2 596.5,1092.5 652.0,1088.9 707.5,1072.1 763.0,1069.6"/>
<g font-size="16" fill="#e0213f" text-anchor="middle">
<rect x="26.8" y="1269.3" width="29.8" height="30.0" fill="#fdea1e" stroke="#e0213f" stroke-width="1"/>
<text class="num" textLength="20.0" lengthAdjust="spacingAndGlyphs" font-size="18" transform="translate(48.0,1284.3) rotate(-90)">۱۷</text>
<rect x="82.1" y="1269.3" width="29.8" height="30.0" fill="#fdea1e" stroke="#e0213f" stroke-width="1"/>
<text class="num" textLength="20.0" lengthAdjust="spacingAndGlyphs" font-size="18" transform="translate(103.3,1284.3) rotate(-90)">۲۳</text>
<rect x="137.6" y="1268.3" width="29.8" height="31.0" fill="#fdea1e" stroke="#e0213f" stroke-width="1"/>
<text class="num" textLength="20.0" lengthAdjust="spacingAndGlyphs" font-size="18" transform="translate(158.8,1283.8) rotate(-90)">۴۵</text>
<rect x="193.4" y="1262.3" width="29.8" height="39.4" fill="#fdea1e" stroke="#e0213f" stroke-width="1"/>
<text class="num" textLength="30.0" lengthAdjust="spacingAndGlyphs" font-size="18" transform="translate(214.6,1282.0) rotate(-90)">۲۸۵</text>
<rect x="248.9" y="1257.0" width="29.8" height="43.0" fill="#fdea1e" stroke="#e0213f" stroke-width="1"/>
<text class="num" textLength="30.0" lengthAdjust="spacingAndGlyphs" font-size="18" transform="translate(270.1,1278.5) rotate(-90)">۵۱۳</text>
<rect x="304.3" y="1255.7" width="29.8" height="39.3" fill="#fdea1e" stroke="#e0213f" stroke-width="1"/>
<text class="num" textLength="30.0" lengthAdjust="spacingAndGlyphs" font-size="18" transform="translate(325.5,1275.3) rotate(-90)">۹۰۸</text>
<rect x="359.4" y="1246.7" width="29.8" height="52.6" fill="#fdea1e" stroke="#e0213f" stroke-width="1"/>
<text class="num" textLength="41.0" lengthAdjust="spacingAndGlyphs" font-size="16" transform="translate(379.9,1273.0) rotate(-90)">۱،۰۹۳</text>
<rect x="415.1" y="1238.7" width="29.8" height="53.0" fill="#fdea1e" stroke="#e0213f" stroke-width="1"/>
<text class="num" textLength="41.0" lengthAdjust="spacingAndGlyphs" font-size="16" transform="translate(435.6,1265.2) rotate(-90)">۱،۸۷۰</text>
<rect x="470.3" y="1234.3" width="29.8" height="53.0" fill="#fdea1e" stroke="#e0213f" stroke-width="1"/>
<text class="num" textLength="41.0" lengthAdjust="spacingAndGlyphs" font-size="16" transform="translate(490.8,1260.8) rotate(-90)">۲،۳۰۸</text>
<rect x="526.2" y="1200.8" width="29.8" height="51.9" fill="#fdea1e" stroke="#e0213f" stroke-width="1"/>
<text class="num" textLength="41.0" lengthAdjust="spacingAndGlyphs" font-size="16" transform="translate(546.7,1226.8) rotate(-90)">۵،۶۰۰</text>
<rect x="581.9" y="1060.6" width="29.8" height="62.6" fill="#fdea1e" stroke="#e0213f" stroke-width="1"/>
<text class="num" textLength="50.0" lengthAdjust="spacingAndGlyphs" font-size="16" transform="translate(602.4,1091.9) rotate(-90)">۱۸،۵۲۳</text>
<rect x="640.2" y="1070.5" width="29.8" height="62.3" fill="#fdea1e" stroke="#e0213f" stroke-width="1"/>
<text class="num" textLength="50.0" lengthAdjust="spacingAndGlyphs" font-size="16" transform="translate(660.7,1101.7) rotate(-90)">۱۸،۸۷۱</text>
<rect x="695.8" y="1062.5" width="29.8" height="62.3" fill="#fdea1e" stroke="#e0213f" stroke-width="1"/>
<text class="num" textLength="50.0" lengthAdjust="spacingAndGlyphs" font-size="16" transform="translate(716.3,1093.7) rotate(-90)">۲۰،۴۸۸</text>
<rect x="750.4" y="1063.3" width="29.8" height="61.8" fill="#fdea1e" stroke="#e0213f" stroke-width="1"/>
<text class="num" textLength="50.0" lengthAdjust="spacingAndGlyphs" font-size="16" transform="translate(770.9,1094.2) rotate(-90)">۲۰،۷۳۵</text>
</g>
<g font-size="16" fill="#111" text-anchor="middle">
<text class="num" textLength="27.0" lengthAdjust="spacingAndGlyphs" x="41.5" y="1266.1">۲۰۴</text>
<text class="num" textLength="32.0" lengthAdjust="spacingAndGlyphs" x="41.5" y="1338" font-size="14.5">۱۳۱۶</text>
<text class="num" textLength="27.0" lengthAdjust="spacingAndGlyphs" x="97.0" y="1260.2">۳۳۷</text>
<text class="num" textLength="32.0" lengthAdjust="spacingAndGlyphs" x="97.0" y="1338" font-size="14.5">۱۳۲۳</text>
<text class="num" textLength="27.0" lengthAdjust="spacingAndGlyphs" x="152.5" y="1247.0">۶۳۵</text>
<text class="num" textLength="32.0" lengthAdjust="spacingAndGlyphs" x="152.5" y="1338" font-size="14.5">۱۳۲۸</text>
<text class="num" textLength="41.0" lengthAdjust="spacingAndGlyphs" x="208.0" y="1229.9">۱،۰۲۰</text>
<text class="num" textLength="32.0" lengthAdjust="spacingAndGlyphs" x="208.0" y="1338" font-size="14.5">۱۳۳۸</text>
<text class="num" textLength="41.0" lengthAdjust="spacingAndGlyphs" x="263.5" y="1196.6">۱،۷۷۰</text>
<text class="num" textLength="32.0" lengthAdjust="spacingAndGlyphs" x="263.5" y="1338" font-size="14.5">۱۳۴۳</text>
<text class="num" textLength="41.0" lengthAdjust="spacingAndGlyphs" x="319.0" y="1140.0">۳،۰۴۴</text>
<text class="num" textLength="32.0" lengthAdjust="spacingAndGlyphs" x="319.0" y="1338" font-size="14.5">۱۳۴۷</text>
<text class="num" textLength="41.0" lengthAdjust="spacingAndGlyphs" x="374.5" y="1104.5">۳،۸۴۵</text>
<text class="num" textLength="32.0" lengthAdjust="spacingAndGlyphs" x="374.5" y="1338" font-size="14.5">۱۳۴۸</text>
<text class="num" textLength="41.0" lengthAdjust="spacingAndGlyphs" x="430.0" y="1072.5">۴،۵۶۶</text>
<text class="num" textLength="32.0" lengthAdjust="spacingAndGlyphs" x="430.0" y="1338" font-size="14.5">۱۳۴۹</text>
<text class="num" textLength="41.0" lengthAdjust="spacingAndGlyphs" x="485.5" y="1050.2">۵،۰۶۷</text>
<text class="num" textLength="32.0" lengthAdjust="spacingAndGlyphs" x="485.5" y="1338" font-size="14.5">۱۳۵۰</text>
<text class="num" textLength="41.0" lengthAdjust="spacingAndGlyphs" x="541.0" y="1013.4">۵،۸۹۶</text>
<text class="num" textLength="32.0" lengthAdjust="spacingAndGlyphs" x="541.0" y="1338" font-size="14.5">۱۳۵۱</text>
<text class="num" textLength="41.0" lengthAdjust="spacingAndGlyphs" x="596.5" y="1007.9">۶،۰۲۱</text>
<text class="num" textLength="32.0" lengthAdjust="spacingAndGlyphs" x="596.5" y="1338" font-size="14.5">۱۳۵۲</text>
<text class="num" textLength="41.0" lengthAdjust="spacingAndGlyphs" x="652.0" y="1037.7">۵،۳۵۰</text>
<text class="num" textLength="32.0" lengthAdjust="spacingAndGlyphs" x="652.0" y="1338" font-size="14.5">۱۳۵۳</text>
<text class="num" textLength="41.0" lengthAdjust="spacingAndGlyphs" x="707.5" y="1013.3">۵،۸۹۹</text>
<text class="num" textLength="32.0" lengthAdjust="spacingAndGlyphs" x="707.5" y="1338" font-size="14.5">۱۳۵۴</text>
<text class="num" textLength="41.0" lengthAdjust="spacingAndGlyphs" x="763.0" y="1023.8">۵،۶۶۲</text>
<text class="num" textLength="32.0" lengthAdjust="spacingAndGlyphs" x="763.0" y="1338" font-size="14.5">۱۳۵۵</text>
</g>
</g>
<text class="t" x="415" y="970" font-size="18.5" text-anchor="middle" direction="rtl" textLength="587" lengthAdjust="spacingAndGlyphs">میزان تولید نفت و درآمد رژیم پهلوی از صادرات نفت در برخی سال‌های منتخب</text>
<rect x="202.7" y="1367" width="21.2" height="8.6" fill="#4a73ba"/>
<text class="t" x="316.5" y="1377" font-size="13" text-anchor="middle" direction="rtl" textLength="176" lengthAdjust="spacingAndGlyphs">تولید نفت (هزار بشکه در روز)</text>
<line x1="431" y1="1371.6" x2="456" y2="1371.6" stroke="#e3164f" stroke-width="3.4" stroke-linecap="round"/>
<text class="t" x="535.3" y="1377" font-size="13" text-anchor="middle" direction="rtl" textLength="153.4" lengthAdjust="spacingAndGlyphs">صادرات نفت (میلیون دلار)</text>
<g clip-path="url(#cp0)"><use href="#wm" y="-487" fill="#fff" opacity="0.17" filter="url(#wso)"/><use href="#wm" y="-487" fill="#fff" opacity="0.03"/></g>
<g clip-path="url(#cp1)"><use href="#wm" y="0" fill="#fff" opacity="0.12" filter="url(#wso)"/><use href="#wm" y="0" fill="#fff" opacity="0.05"/></g>
<g clip-path="url(#cp2)"><use href="#wm" y="472.5" fill="#fff" opacity="0.13" filter="url(#wso)"/><use href="#wm" y="472.5" fill="#fff" opacity="0.055"/></g>
<rect x="179.3" y="898" width="20.6" height="9" fill="#2ab395"/>
<text class="t" x="281.5" y="909.5" font-size="15" text-anchor="middle" direction="rtl" textLength="155.6" lengthAdjust="spacingAndGlyphs">ارزش صادرات غیرنفتی</text>
<rect x="399.1" y="898" width="22.5" height="9" fill="#1f2963"/>
<text class="t" x="470.5" y="909.5" font-size="15" text-anchor="middle" direction="rtl" textLength="90" lengthAdjust="spacingAndGlyphs">ارزش واردات</text>
<line x1="550.5" y1="902.5" x2="579.5" y2="902.5" stroke="#e3243f" stroke-width="2.6" stroke-linecap="round"/><circle cx="565" cy="902.5" r="3.2" fill="#b9a9a6" stroke="#e3243f" stroke-width="1"/>
<text class="t" x="617.3" y="909.5" font-size="15" text-anchor="middle" direction="rtl" textLength="72.6" lengthAdjust="spacingAndGlyphs">تراز تجاری</text>
</svg></body></html>
